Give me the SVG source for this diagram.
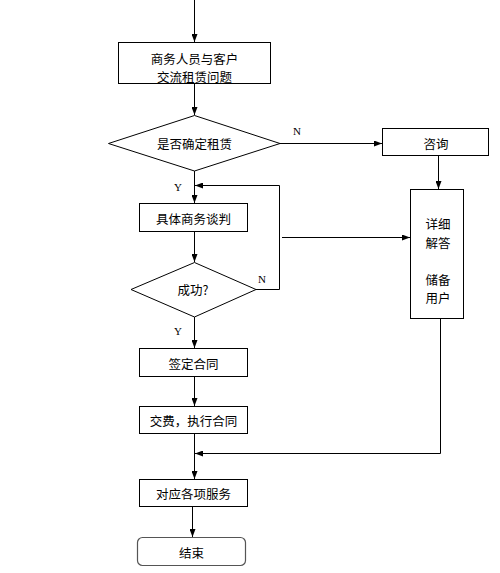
<svg xmlns="http://www.w3.org/2000/svg" width="500" height="573" viewBox="0 0 500 573">
<style>
.box{fill:#fff;stroke:#000;stroke-width:1}
.end{fill:#fff;stroke:#555;stroke-width:1.2}
.t{font-family:"Noto Sans CJK SC","Liberation Sans",sans-serif;font-size:12.5px;fill:#000;text-anchor:middle;dominant-baseline:central}
.lbl{font-family:"Liberation Serif",serif;font-size:11px;fill:#000;text-anchor:middle;dominant-baseline:central}
.c{fill:none;stroke:#000;stroke-width:1}
</style>
<defs>
<marker id="ah" viewBox="0 0 8 6" refX="8" refY="3" markerWidth="8" markerHeight="6" orient="auto" markerUnits="userSpaceOnUse">
<path d="M0,0 L8,3 L0,6 Z" fill="#000"/>
</marker>
</defs>
<g id="connectors">
<path class="c" d="M194.5,0 V42" marker-end="url(#ah)"/>
<path class="c" d="M194.5,84 V115" marker-end="url(#ah)"/>
<path class="c" d="M280,143.5 H382" marker-end="url(#ah)"/>
<path class="c" d="M438.5,156 V189" marker-end="url(#ah)"/>
<path class="c" d="M194.5,171 V203" marker-end="url(#ah)"/>
<path class="c" d="M256,289.5 H279.5 V185.5 H195" marker-end="url(#ah)"/>
<path class="c" d="M282,237.5 H410" marker-end="url(#ah)"/>
<path class="c" d="M194.5,232 V262" marker-end="url(#ah)"/>
<path class="c" d="M194.5,317 V348" marker-end="url(#ah)"/>
<path class="c" d="M194.5,377 V406" marker-end="url(#ah)"/>
<path class="c" d="M194.5,434 V479" marker-end="url(#ah)"/>
<path class="c" d="M440.5,319 V453.5 H195" marker-end="url(#ah)"/>
<path class="c" d="M192.5,507 V537" marker-end="url(#ah)"/>
<text class="lbl" x="297" y="131">N</text>
<text class="lbl" x="178" y="187">Y</text>
<text class="lbl" x="262" y="279">N</text>
<text class="lbl" x="178" y="331">Y</text>
</g>
<g id="n1">
<rect class="box" x="118.5" y="42.5" width="152" height="41"/>
<text class="t" x="194.5" y="58">商务人员与客户</text>
<text class="t" x="194.5" y="76">交流租赁问题</text>
</g>
<g id="n2">
<polygon class="box" points="194.5,115.5 280,143.5 194.5,171 108.5,143.5"/>
<text class="t" x="194.5" y="143">是否确定租赁</text>
</g>
<g id="n3">
<rect class="box" x="382.5" y="128.5" width="106" height="27"/>
<text class="t" x="436" y="143">咨询</text>
</g>
<g id="n4">
<rect class="box" x="410.5" y="189.5" width="53" height="129"/>
<text class="t" x="438" y="223">详细</text>
<text class="t" x="438" y="242">解答</text>
<text class="t" x="438" y="279">储备</text>
<text class="t" x="438" y="297">用户</text>
</g>
<g id="n5">
<rect class="box" x="139.5" y="203.5" width="108" height="28"/>
<text class="t" x="193.5" y="218">具体商务谈判</text>
</g>
<g id="n6">
<polygon class="box" points="194.5,262.5 256,289.5 194.5,317 131,289.5"/>
<text class="t" x="193" y="289">成功?</text>
</g>
<g id="n7">
<rect class="box" x="139.5" y="348.5" width="108" height="28"/>
<text class="t" x="193.5" y="363">签定合同</text>
</g>
<g id="n8">
<rect class="box" x="139.5" y="406.5" width="108" height="27"/>
<text class="t" x="193.5" y="420">交费，执行合同</text>
</g>
<g id="n9">
<rect class="box" x="139.5" y="479.5" width="108" height="27"/>
<text class="t" x="193.5" y="493">对应各项服务</text>
</g>
<g id="n10">
<rect class="end" x="137.5" y="537.5" width="108" height="28" rx="5" ry="5"/>
<text class="t" x="191.5" y="552">结束</text>
</g>
</svg>
